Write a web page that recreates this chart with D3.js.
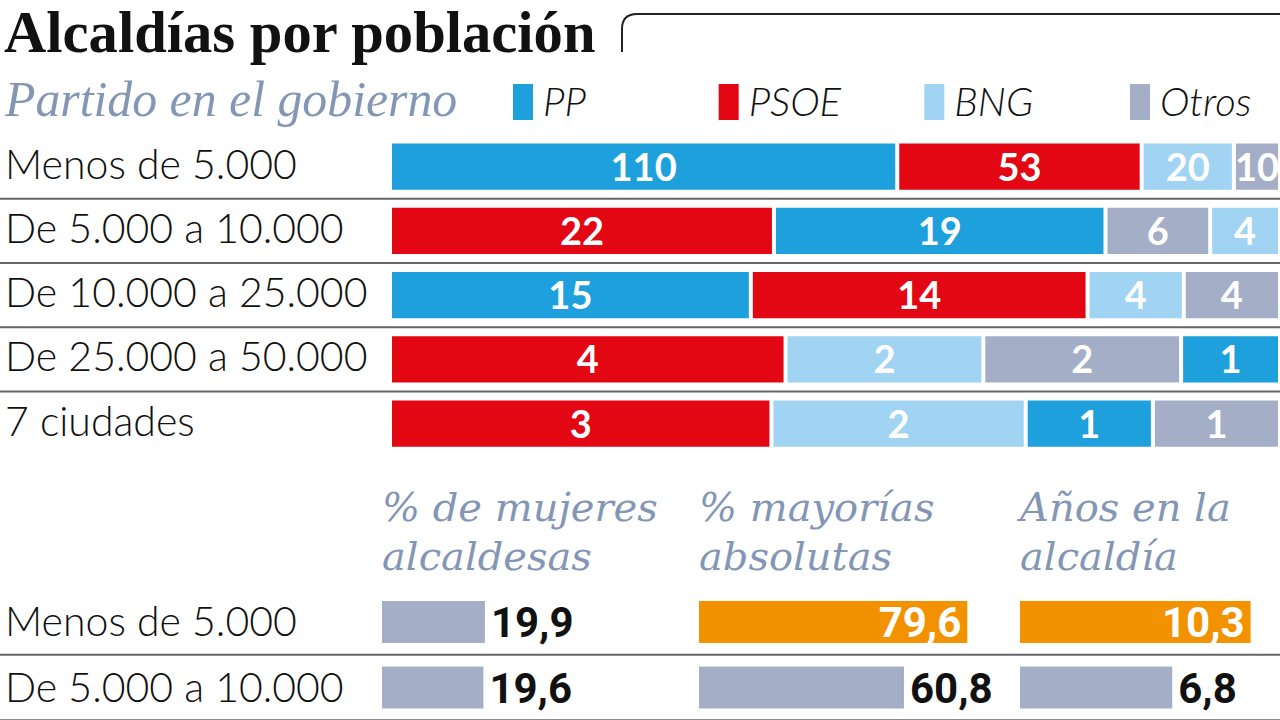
<!DOCTYPE html>
<html><head><meta charset="utf-8">
<script src="https://cdn.jsdelivr.net/npm/d3@7/dist/d3.min.js"></script>
<style>
html,body{margin:0;padding:0;background:#fff;}
svg{display:block;}
</style></head>
<body>
<script>
// ---- data ----
const categories = ["Menos de 5.000","De 5.000 a 10.000","De 10.000 a 25.000","De 25.000 a 50.000","7 ciudades"];
const parties = ["PP","PSOE","BNG","Otros"];
const ppValues    = [110,19,15,1,1];
const psoeValues  = [53,22,14,4,3];
const bngValues   = [20,4,4,2,2];
const otrosValues = [10,6,4,2,1];

const statCategories = ["Menos de 5.000","De 5.000 a 10.000"];
const statTitles = [["% de mujeres","alcaldesas"],["% mayorías","absolutas"],["Años en la","alcaldía"]];
const mujeresValues  = [19.9,19.6];
const mayoriasValues = [79.6,60.8];
const anosValues     = [10.3,6.8];
const highlighted    = [[false,false],[true,false],[true,false]];
const statMax = [58,89,13.4];

// ---- styles ----
const partyColor = d3.scaleOrdinal().domain(parties).range(["#1ea0dc","#e30613","#a0d4f2","#a4aec6"]);
const greyBlue = "#8496b5";
const W=1280,H=720;
const sans = "Lato, 'Open Sans', sans-serif";
const serif = "'Liberation Serif', 'DejaVu Serif', serif";
const fmt = v => String(v).replace(".", ",");

const svg = d3.select("body").append("svg").attr("width",W).attr("height",H);

// title
svg.append("text").attr("x",4).attr("y",52)
  .attr("font-family",serif).attr("font-weight","bold").attr("font-size",58.6)
  .attr("fill","#111").text("Alcaldías por población");
svg.append("path").attr("d","M622,52 V29 Q622,14 637,14 H1280")
  .attr("fill","none").attr("stroke","#222").attr("stroke-width",2);

// subtitle
svg.append("text").attr("x",5).attr("y",116)
  .attr("font-family",serif).attr("font-style","italic").attr("font-size",49.8)
  .attr("fill",greyBlue).text("Partido en el gobierno");

// legend
const legendX = d3.scalePoint().domain(parties).range([513,1130]);
const lg = svg.append("g").selectAll("g").data(parties).join("g")
  .attr("transform",d=>`translate(${legendX(d)},84)`);
lg.append("rect").attr("width",20).attr("height",36).attr("fill",d=>partyColor(d));
lg.append("text").attr("x",30).attr("y",32).attr("font-family",sans).attr("font-style","italic")
  .attr("font-weight",300).attr("font-size",40).attr("fill","#111").text(d=>d);

// stacked rows
const valuesByParty = {PP:ppValues,PSOE:psoeValues,BNG:bngValues,Otros:otrosValues};
const y = d3.scaleBand().domain(categories).range([134.5,455.75]).paddingInner(0.28).paddingOuter(0.14);
const gap = 4;

categories.forEach((cat,i)=>{
  const segs = parties.map(p=>({party:p,value:valuesByParty[p][i]}));
  const sorted = segs.slice().sort((a,b)=>b.value-a.value); // stable
  const total = d3.sum(sorted,d=>d.value);
  const x = d3.scaleLinear().domain([0,total]).range([392,1278+gap]);
  let acc=0;
  sorted.forEach(s=>{s.x0=acc; acc+=s.value; s.x1=acc;});
  const g = svg.append("g");
  g.selectAll("rect").data(sorted).join("rect")
    .attr("x",d=>x(d.x0)).attr("y",y(cat))
    .attr("width",d=>x(d.x1)-x(d.x0)-gap).attr("height",y.bandwidth())
    .attr("fill",d=>partyColor(d.party));
  g.selectAll("text.v").data(sorted).join("text").attr("class","v")
    .attr("x",d=>(x(d.x0)+x(d.x1)-gap)/2).attr("y",y(cat)+y.bandwidth()/2+14)
    .attr("text-anchor","middle").attr("font-family",sans).attr("font-weight","bold")
    .attr("font-size",38).attr("fill","#fff").text(d=>d.value);
  svg.append("text").attr("x",5).attr("y",y(cat)+y.bandwidth()/2+12)
    .attr("font-family",sans).attr("font-weight",300).attr("font-size",41).attr("fill","#111").text(cat);
  if(i<categories.length-1){
    const ly = y(cat)+y.bandwidth()+(y.step()-y.bandwidth())/2;
    svg.append("line").attr("x1",0).attr("x2",W).attr("y1",ly).attr("y2",ly)
      .attr("stroke","#666").attr("stroke-width",2);
  }
});

// stats section
const colX = [382,699,1020];
const statValues = [mujeresValues,mayoriasValues,anosValues];
statTitles.forEach((t,c)=>{
  t.forEach((line,k)=>{
    svg.append("text").attr("x",colX[c]).attr("y",521+k*49)
      .attr("font-family","'DejaVu Serif', serif").attr("font-style","italic").attr("font-size",40)
      .attr("fill",greyBlue).text(line);
  });
});
const y2 = d3.scaleBand().domain(statCategories).range([590.5,719]).paddingInner(0.36).paddingOuter(0.16);
statCategories.forEach((cat,r)=>{
  svg.append("text").attr("x",5).attr("y",y2(cat)+y2.bandwidth()/2+14)
    .attr("font-family",sans).attr("font-weight",300).attr("font-size",41).attr("fill","#111").text(cat);
  const ly = y2(cat)+y2.bandwidth()+(y2.step()-y2.bandwidth())/2;
  svg.append("line").attr("x1",0).attr("x2",W).attr("y1",ly).attr("y2",ly)
    .attr("stroke","#666").attr("stroke-width",2);
  statValues.forEach((vals,c)=>{
    const sx = d3.scaleLinear().domain([0,statMax[c]]).range([colX[c],colX[c]+300]);
    const v = vals[r], hl = highlighted[c][r];
    svg.append("rect").attr("x",sx(0)).attr("y",y2(cat))
      .attr("width",sx(v)-sx(0)).attr("height",y2.bandwidth())
      .attr("fill",hl?"#f39200":"#a4aec6");
    svg.append("text").attr("x",hl?sx(v)-6:sx(v)+6).attr("y",y2(cat)+y2.bandwidth()/2+15)
      .attr("text-anchor",hl?"end":"start").attr("font-family","Roboto, sans-serif")
      .attr("font-weight","bold").attr("font-size",42).attr("fill",hl?"#fff":"#111").text(fmt(v));
  });
});
</script>
</body></html>
